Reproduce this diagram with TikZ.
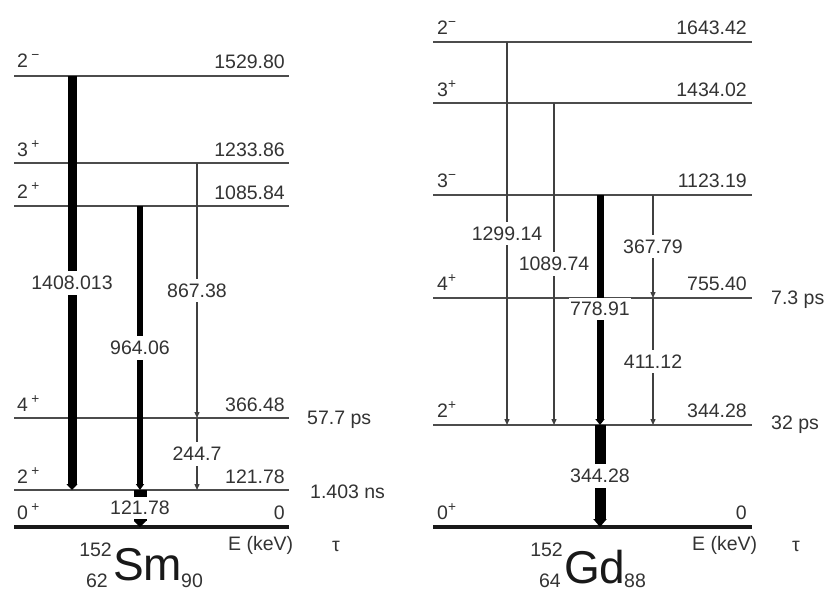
\documentclass[tikz,border=0pt]{standalone}
\usepackage{fontspec}
\setmainfont{Liberation Sans}
\usetikzlibrary{arrows.meta}
\begin{document}
\begin{tikzpicture}[x=1pt,y=-1pt,
  lvl/.style={line width=2pt, draw=black!70},
  gnd/.style={line width=4pt, draw=black!90},
  txt/.style={font=\fontsize{19.5}{22}\selectfont, text=black!80, inner sep=0pt},
  en/.style={txt, anchor=base east},
  sp/.style={txt, anchor=base west},
  tau/.style={txt, anchor=west},
  lbl/.style={txt, fill=white, inner xsep=1pt, inner ysep=5pt},
  thin/.style={line width=1.3pt, draw=black!75, -{Triangle[length=6pt,width=5pt]}},
  big/.style={font=\fontsize{46}{50}\selectfont, text=black!90, inner sep=0pt},
]
\useasboundingbox (0,0) rectangle (826,592);

% ---------------- 152Sm ----------------
\foreach \n/\y in {a/76, b/163, c/206, d/418, e/490} {
  \coordinate (SL\n) at (14,\y);
  \coordinate (SR\n) at (289,\y);
  \draw[lvl] (SL\n) -- (SR\n);
}
\coordinate (SLf) at (14,527); \coordinate (SRf) at (289,527);
\draw[gnd] (SLf) -- (SRf);

% spins and energies
\node[sp] (s1) at (17,67) {2\,\textsuperscript{−}};
\node[en] (e1) at (285,68) {1529.80};
\node[sp] (s2) at (17,156) {3\,\textsuperscript{+}};
\node[en] (e2) at (285,156) {1233.86};
\node[sp] (s3) at (17,198) {2\,\textsuperscript{+}};
\node[en] (e3) at (285,199) {1085.84};
\node[sp] (s4) at (17,411) {4\,\textsuperscript{+}};
\node[en] (e4) at (285,411) {366.48};
\node[sp] (s5) at (17,483) {2\,\textsuperscript{+}};
\node[en] (e5) at (285,483) {121.78};
\node[sp] (s6) at (17,519) {0\,\textsuperscript{+}};
\node[en] (e6) at (285,519) {0};

% transitions
\coordinate (t1a) at (72,76);  \coordinate (t1b) at (72,490);
\draw[line width=9pt, draw=black, -{Triangle[length=6pt,width=11pt]}] (t1a) -- (t1b)
  node[lbl, pos=0.5] (l1) {1408.013};
\coordinate (t2a) at (140,206); \coordinate (t2b) at (140,490);
\draw[line width=5.5pt, draw=black, -{Triangle[length=6pt,width=8pt]}] (t2a) -- (t2b)
  node[lbl, pos=0.5] (l2) {964.06};
\coordinate (t3a) at (197,163); \coordinate (t3b) at (197,418);
\draw[thin] (t3a) -- (t3b) node[lbl, pos=0.5] (l3) {867.38};
\coordinate (t4b) at (197,490);
\draw[thin] (t3b) -- (t4b) node[lbl, pos=0.5] (l4) {244.7};
\coordinate (t5a) at (140,490); \coordinate (t5b) at (140,527);
\draw[line width=13pt, draw=black, -{Triangle[length=6pt,width=12pt]}] (t5a) -- (t5b)
  node[lbl, pos=0.48, inner ysep=4pt] (l5) {121.78};

% lifetimes
\node[tau] (tau1) at (307,420) {57.7 ps};
\node[tau] (tau2) at (310,492) {1.403 ns};
\node[tau] (ek1) at (228,545) {E (keV)};
\node[tau] (tt1) at (332,546) {τ};

% nuclide
\node[big, anchor=base west] (sm) at (113,580) {Sm};
\node[txt, anchor=base east] (sma) at (112,556) {152};
\node[txt, anchor=base east] (smz) at (108,587) {62};
\node[txt, anchor=base west] (smn) at (181,587) {90};

% ---------------- 152Gd ----------------
\foreach \n/\y in {a/42, b/103, c/195, d/298, e/425} {
  \coordinate (GL\n) at (433,\y);
  \coordinate (GR\n) at (752,\y);
  \draw[lvl] (GL\n) -- (GR\n);
}
\coordinate (GLf) at (433,527); \coordinate (GRf) at (752,527);
\draw[gnd] (GLf) -- (GRf);

\node[sp] (g1) at (437,34) {2\textsuperscript{−}};
\node[en] (f1) at (747,34) {1643.42};
\node[sp] (g2) at (437,96) {3\textsuperscript{+}};
\node[en] (f2) at (747,96) {1434.02};
\node[sp] (g3) at (437,187) {3\textsuperscript{−}};
\node[en] (f3) at (747,187) {1123.19};
\node[sp] (g4) at (437,290) {4\textsuperscript{+}};
\node[en] (f4) at (747,290) {755.40};
\node[sp] (g5) at (437,417) {2\textsuperscript{+}};
\node[en] (f5) at (747,417) {344.28};
\node[sp] (g6) at (437,519) {0\textsuperscript{+}};
\node[en] (f6) at (747,519) {0};

\coordinate (u1a) at (507,42); \coordinate (u1b) at (507,425);
\draw[thin] (u1a) -- (u1b) node[lbl, pos=0.5] (m1) {1299.14};
\coordinate (u2a) at (554,103); \coordinate (u2b) at (554,425);
\draw[thin] (u2a) -- (u2b) node[lbl, pos=0.5] (m2) {1089.74};
\coordinate (u3a) at (600,195); \coordinate (u3b) at (600,425);
\draw[line width=7pt, draw=black, -{Triangle[length=6pt,width=9pt]}] (u3a) -- (u3b)
  node[lbl, pos=0.496, inner ysep=4pt] (m3) {778.91};
\coordinate (u4a) at (653,195); \coordinate (u4b) at (653,298);
\draw[thin] (u4a) -- (u4b) node[lbl, pos=0.5] (m4) {367.79};
\coordinate (u5b) at (653,425);
\draw[thin] (u4b) -- (u5b) node[lbl, pos=0.5] (m5) {411.12};
\coordinate (u6a) at (600,425); \coordinate (u6b) at (600,527);
\draw[line width=11pt, draw=black, -{Triangle[length=8pt,width=13pt]}] (u6a) -- (u6b)
  node[lbl, pos=0.5] (m6) {344.28};

\node[tau] (tau3) at (771,300) {7.3 ps};
\node[tau] (tau4) at (771,425) {32 ps};
\node[tau] (ek2) at (692,545) {E (keV)};
\node[tau] (tt2) at (792,546) {τ};

\node[big, anchor=base west] (gd) at (564,583) {Gd};
\node[txt, anchor=base east] (gda) at (563,556) {152};
\node[txt, anchor=base east] (gdz) at (561,587) {64};
\node[txt, anchor=base west] (gdn) at (624,587) {88};
\end{tikzpicture}
\end{document}
